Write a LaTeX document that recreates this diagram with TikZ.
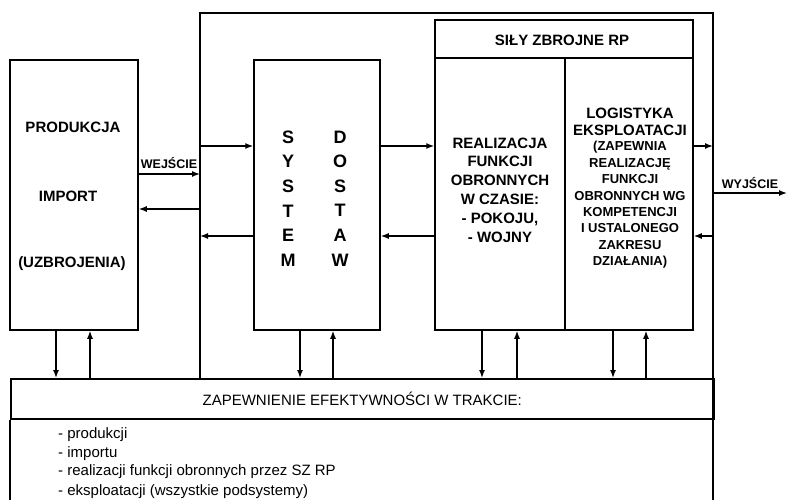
\documentclass[tikz,border=0pt]{standalone}
\usepackage{fontspec}
\setmainfont{Liberation Sans}
\usetikzlibrary{arrows.meta}
\begin{document}
\begin{tikzpicture}[x=1pt,y=-1pt,
  box/.style={draw, line width=1.5pt, rectangle, inner sep=0pt},
  ln/.style={line width=1.5pt},
  arr/.style={line width=1.4pt, -{Latex[length=8pt,width=6pt]}},
  big/.style={font=\fontsize{15}{18.8}\selectfont\bfseries, align=center, inner sep=0pt},
  small/.style={font=\fontsize{13}{16.4}\selectfont\bfseries, align=center, inner sep=0pt},
  lbl/.style={font=\fontsize{12.5}{14}\selectfont\bfseries, inner sep=0pt},
  letters/.style={font=\fontsize{18}{24.6}\selectfont\bfseries, align=center, inner sep=0pt},
  plain/.style={font=\fontsize{15}{18}\selectfont, inner sep=0pt}]
\useasboundingbox (0,0) rectangle (787,500);
\fill[white] (0,0) rectangle (787,500);

% outer frame
\coordinate (fTL) at (200,13);
\coordinate (fTR) at (713,13);
\coordinate (fBL) at (200,378);
\coordinate (fBR) at (713,500);
\draw[ln] (fBL) -- (fTL) -- (fTR) -- (fBR);

% boxes
\node[box, minimum width=128pt, minimum height=270pt] (prod) at (74,195) {};
\node[box, minimum width=126pt, minimum height=270pt] (sys) at (317,195) {};
\node[box, minimum width=258pt, minimum height=38pt] (sz) at (564,39) {};
\node[box, minimum width=130pt, minimum height=272pt] (real) at (500,194) {};
\node[box, minimum width=128pt, minimum height=272pt] (log) at (629,194) {};
\node[box, minimum width=703pt, minimum height=40pt, anchor=north west] (zap) at (10,378) {};
\coordinate (zBL) at (10,500);
\draw[ln] (zap.south west) -- (zBL);

% texts
\node[big] (t1) at (73,127) {PRODUKCJA};
\node[big] (t2) at (68,196) {IMPORT};
\node[big] (t3) at (72,264) {(UZBROJENIA)};
\node[letters] (t4) at (288,198.5) {S\\Y\\S\\T\\E\\M};
\node[letters] (t5) at (340,198.5) {D\\O\\S\\T\\A\\W};
\node[big] (t6) at (562,40) {SIŁY ZBROJNE RP};
\node[big] (t7) at (500,190) {REALIZACJA\\FUNKCJI\\OBRONNYCH\\W CZASIE:\\- POKOJU,\\- WOJNY};
\node[big, font=\fontsize{15}{17}\selectfont\bfseries] (t8) at (630,121.5) {LOGISTYKA\\EKSPLOATACJI};
\node[small] (t9) at (630,205) {(ZAPEWNIA\\REALIZACJĘ\\FUNKCJI\\OBRONNYCH WG\\KOMPETENCJI\\I USTALONEGO\\ZAKRESU\\DZIAŁANIA)};
\node[plain] (t10) at (zap.center) {ZAPEWNIENIE EFEKTYWNOŚCI W TRAKCIE:};
\node[plain, anchor=base west] (l1) at (58,438) {- produkcji};
\node[plain, anchor=base west] (l2) at (58,457) {- importu};
\node[plain, anchor=base west] (l3) at (58,475) {- realizacji funkcji obronnych przez SZ RP};
\node[plain, anchor=base west] (l4) at (58,495) {- eksploatacji (wszystkie podsystemy)};
\node[lbl] (win) at (169,163) {WEJŚCIE};
\node[lbl] (wout) at (750,183) {WYJŚCIE};

% horizontal arrows
\draw[arr] (fTL |- 0,146) -- (sys.west |- 0,146);
\draw[arr] (prod.east |- 0,174) -- (fTL |- 0,174);
\draw[arr] (fTL |- 0,209) -- (prod.east |- 0,209);
\draw[arr] (sys.west |- 0,236) -- (fTL |- 0,236);
\draw[arr] (sys.east |- 0,146) -- (real.west |- 0,146);
\draw[arr] (real.west |- 0,236) -- (sys.east |- 0,236);
\draw[arr] (log.east |- 0,146) -- (fTR |- 0,146);
\draw[arr] (fTR |- 0,236) -- (log.east |- 0,236);
\coordinate (out) at (787,193);
\draw[arr] (fTR |- out) -- (out);

% vertical arrows
\draw[arr] (prod.south -| 56,0) -- (zap.north -| 56,0);
\draw[arr] (zap.north -| 90,0) -- (prod.south -| 90,0);
\draw[arr] (sys.south -| 300,0) -- (zap.north -| 300,0);
\draw[arr] (zap.north -| 333,0) -- (sys.south -| 333,0);
\draw[arr] (real.south -| 482,0) -- (zap.north -| 482,0);
\draw[arr] (zap.north -| 517,0) -- (real.south -| 517,0);
\draw[arr] (log.south -| 613,0) -- (zap.north -| 613,0);
\draw[arr] (zap.north -| 646,0) -- (log.south -| 646,0);
\end{tikzpicture}
\end{document}
